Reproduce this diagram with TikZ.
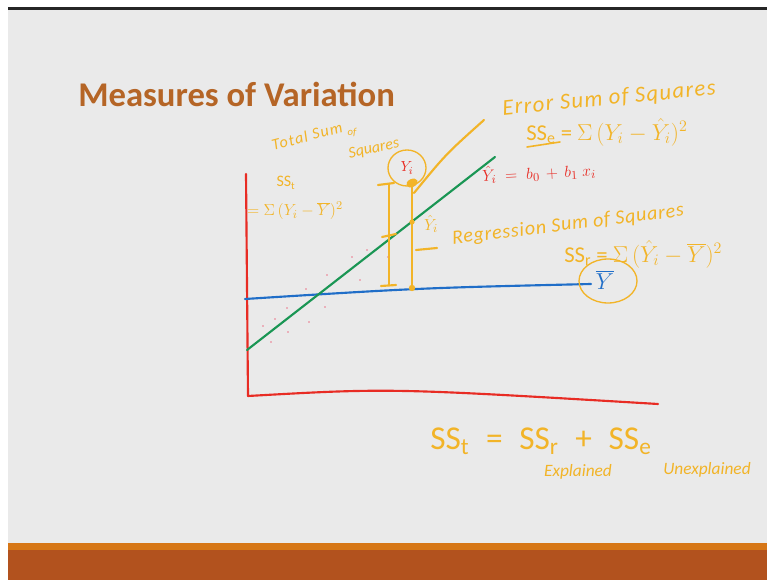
\documentclass[tikz,border=0pt]{standalone}
\usepackage{fontspec}
\setmainfont{Carlito}
\usepackage{tikz}
\definecolor{slidegray}{RGB}{234,234,234}
\definecolor{titlebrown}{RGB}{181,101,38}
\definecolor{bandorange}{RGB}{178,82,30}
\definecolor{bandlight}{RGB}{214,118,22}
\definecolor{penyellow}{RGB}{242,180,40}
\definecolor{penred}{RGB}{232,44,36}
\definecolor{pengreen}{RGB}{26,150,84}
\definecolor{penblue}{RGB}{32,110,200}
\definecolor{dotpink}{RGB}{235,120,140}
\tikzset{
  ink/.style={line width=1.6pt, line cap=round, line join=round},
  yellowink/.style={ink, draw=penyellow},
  redink/.style={ink, draw=penred},
  greenink/.style={ink, draw=pengreen},
  blueink/.style={ink, draw=penblue},
  hand/.style={text=penyellow, inner sep=0pt, font=\fontsize{11}{12}\selectfont\itshape},
  bighand/.style={text=penyellow, inner sep=0pt, font=\fontsize{25}{27}\selectfont},
  redhand/.style={text=penred, inner sep=0pt, font=\fontsize{11}{12}\selectfont}
}

\begin{document}
\begin{tikzpicture}[x=0.75pt, y=-0.75pt]
        \useasboundingbox (0,0) rectangle (767,580);
        % slide
        \fill[white] (0,0) rectangle (767,580);
        \fill[slidegray] (8,10) rectangle (767,543);
        \fill[black!85] (8,7) rectangle (767,10);
        \fill[bandorange] (8,543) rectangle (767,580);
        \fill[bandlight] (8,543) rectangle (767,550);
        \node[anchor=west, inner sep=0pt, text=titlebrown,
          font=\fontsize{26}{30}\selectfont\bfseries] (title) at (78,94) {Measures of Variation};

        % axes
        \coordinate (ytop) at (246,174);
        \coordinate (orig) at (248,396);
        \coordinate (xmid) at (390,388);
        \coordinate (xend) at (658,404);
        \draw[redink] (ytop) -- (orig) .. controls (xmid) .. (xend);

        % mean line and regression line
        \coordinate (mstart) at (245,299);
        \coordinate (mend) at (591,284);
        \draw[blueink] (mstart) .. controls (420,288) .. (mend);
        \coordinate (rstart) at (247,350);
        \coordinate (rend) at (495,157);
        \draw[greenink] (rstart) -- (rend);

        % data points
        \foreach \p in {(327,275),(360,280),(306,289),(325,307),(287,308),(263,326),
          (275,319),(288,332),(309,322),(271,342),(352,257),(367,250),(388,257)}
          \fill[dotpink] \p circle (0.9);

        % deviations
        \coordinate (ltop) at (389,184);
        \coordinate (lmid) at (389,236);
        \coordinate (lbot) at (389,285);
        \draw[yellowink] (ltop) -- (lbot);
        \draw[yellowink] (378,185) -- (394,183);
        \draw[yellowink] (381,286) -- (396,285);
        \draw[yellowink] (382,237) -- (396,234);
        \coordinate (rtop) at (412,183);
        \coordinate (rhat) at (412,222);
        \coordinate (rbot) at (412,288);
        \draw[yellowink] (rtop) -- (rbot);
        \fill[penyellow, rotate around={25:(rtop)}] (rtop) ellipse [x radius=6, y radius=4];
        \fill[penyellow] (rhat) circle (2.6);
        \fill[penyellow] (rbot) circle (3.2);
        \coordinate (rtick) at (437,248);
        \draw[yellowink] (416,250) -- (rtick);

        % observed point
        \coordinate (yic) at (407,168);
        \draw[penyellow, line width=1pt] (yic) ellipse [x radius=19, y radius=18];
        \node[redhand] (yi) at (407,168) {$Y_i$};
        \node[text=penyellow, inner sep=0pt, font=\fontsize{13}{14}\selectfont] (yihat) at (431,224) {$\hat{Y}_i$};

        % mean label
        \coordinate (ybc) at (608,281);
        \draw[penyellow, line width=1pt] (ybc) ellipse [x radius=29, y radius=22];
        \node[text=penblue, inner sep=0pt, font=\fontsize{17}{18}\selectfont] (ybar) at (605,280) {$\overline{Y}$};

        % fitted equation
        \node[redhand, anchor=west, rotate=3, font=\fontsize{13}{14}\selectfont] (fit) at (482,175) {$\hat{Y}_i \;=\; b_0 \,+\, b_1\;x_i$};

        % total sum of squares
        \node[hand, rotate=15, font=\fontsize{12}{13}\selectfont\itshape\addfontfeatures{LetterSpace=8}] (totsum) at (307,136) {Total Sum};
        \node[hand, font=\fontsize{8}{9}\selectfont\itshape] (totof) at (352,132) {of};
        \node[hand, rotate=12, font=\fontsize{12}{13}\selectfont\itshape] (totsq) at (374,149) {Squares};
        \node[hand, font=\fontsize{12}{13}\selectfont] (sst) at (286,183) {SS\textsubscript{t}};
        \node[hand, font=\fontsize{13}{14}\selectfont] (sstf) at (295,211) {$=\Sigma\,(Y_i-\overline{Y})^2$};

        % error sum of squares
        \coordinate (eleft) at (414,193);
        \coordinate (eright) at (484,120);
        \draw[yellowink] (eleft) .. controls (446,154) .. (eright);
        \node[hand, rotate=5.5, font=\fontsize{17}{18}\selectfont\itshape\addfontfeatures{LetterSpace=6}] (errlab) at (609,99) {Error Sum of Squares};
        \node[hand, anchor=west, font=\fontsize{17}{18}\selectfont] (ssef) at (526,132) {SS\textsubscript{e} = $\Sigma\,(Y_i-\hat{Y}_i)^2$};
        \draw[yellowink, line width=1.2pt] (527,147) -- (560,142);

        % regression sum of squares
        \node[hand, rotate=7, font=\fontsize{15}{16}\selectfont\itshape\addfontfeatures{LetterSpace=4}] (reglab) at (568,225) {Regression Sum of Squares};
        \node[hand, anchor=west, font=\fontsize{17}{18}\selectfont] (ssrf) at (564,254) {SS\textsubscript{r} = $\Sigma\,(\hat{Y}_i-\overline{Y})^2$};

        % decomposition
        \node[bighand, anchor=west] (decomp) at (430,441) {SS\textsubscript{t}\hspace{0.5em}=\hspace{0.5em}SS\textsubscript{r}\hspace{0.5em}+\hspace{0.5em}SS\textsubscript{e}};
        \node[hand, font=\fontsize{13}{14}\selectfont\itshape] (expl) at (578,472) {Explained};
        \node[hand, font=\fontsize{13}{14}\selectfont\itshape] (unexpl) at (707,470) {Unexplained};
      \end{tikzpicture}
\end{document}
